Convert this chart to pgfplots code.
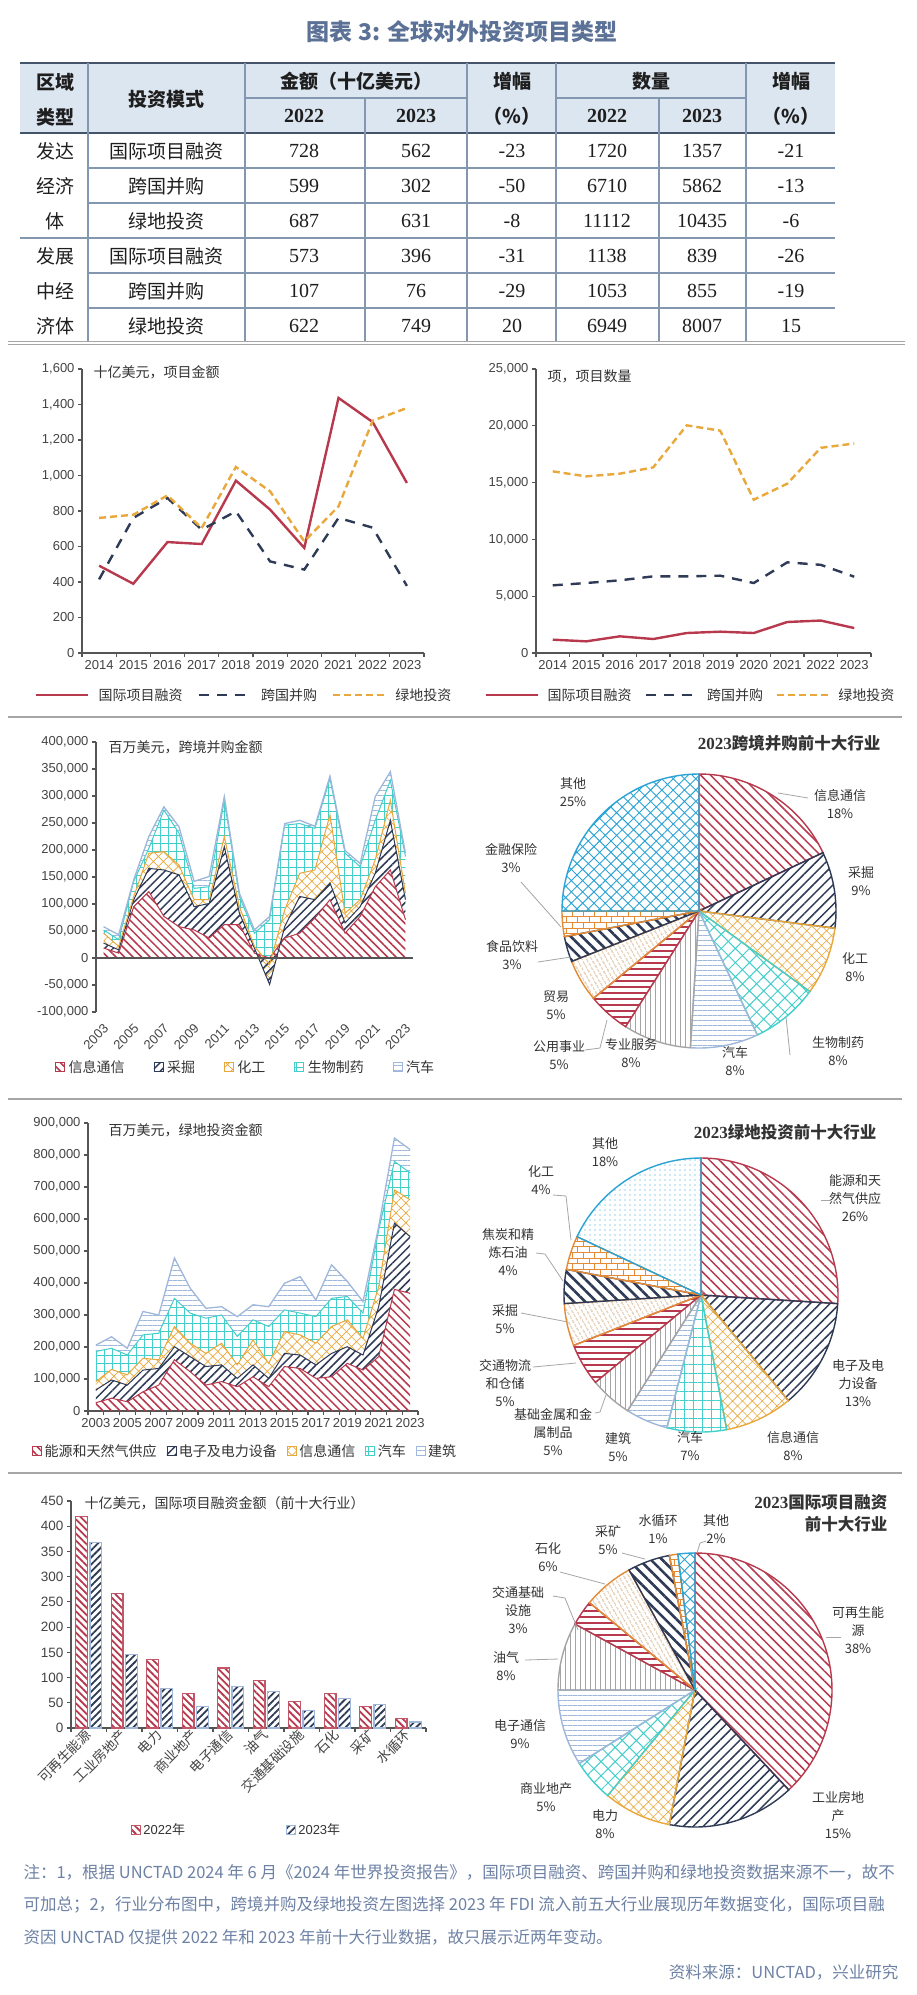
\documentclass[border=0pt]{standalone}
\usepackage{fontspec}
\setmainfont{Liberation Sans}
\newfontfamily\cjk{Noto Sans CJK SC}
\newfontfamily\tms{Liberation Serif}
\usepackage{pgfplots}
\usepackage{pgfplotstable}
\pgfplotsset{compat=1.18}
\usetikzlibrary{patterns,patterns.meta}

\definecolor{cred}{HTML}{B8394D}
\definecolor{cnavy}{HTML}{2E3A56}
\definecolor{cgold}{HTML}{E9A83B}
\definecolor{ccyan}{HTML}{45CFCB}
\definecolor{clblue}{HTML}{9FB7DA}
\definecolor{cgray}{HTML}{A5A5A5}
\definecolor{cblue}{HTML}{2BA3D4}
\definecolor{corange}{HTML}{E58B35}
\definecolor{cbrown}{HTML}{C0884F}
\definecolor{ctitle}{HTML}{5B7196}
\definecolor{cnote}{HTML}{6E82A5}
\definecolor{chead}{HTML}{DCE6F1}
\definecolor{cline}{HTML}{44546A}
\definecolor{cgrid}{HTML}{8497B0}
\definecolor{csep}{HTML}{A6A6A6}
\definecolor{caxis}{HTML}{555555}
\definecolor{ctext}{HTML}{333333}
\definecolor{ctick}{HTML}{444444}
\definecolor{ctable}{HTML}{1E1E1E}

\newcommand\fs[1]{\fontsize{#1}{#1}\selectfont}
\newcommand\fsl[2]{\fontsize{#1}{#2}\selectfont}

\tikzset{
  tcjk/.style={font=\cjk\fs{19}, text=ctable},
  thead/.style={font=\cjk\bfseries\fs{19}, text=ctable},
  tnum/.style={font=\tms\fs{20}, text=ctable},
  thnum/.style={font=\tms\bfseries\fs{20}, text=ctable},
  note/.style={font=\cjk\fs{14}, text=ctext, anchor=west},
  plab/.style={font=\cjk\fsl{13}{18}, text=ctext, align=center},
  lead/.style={draw=csep, line width=0.8pt},
  % line series
  lRed/.style={draw=cred, line width=2.4pt},
  lNavy/.style={draw=cnavy, line width=2.4pt, dash pattern=on 10pt off 8pt},
  lGold/.style={draw=cgold, line width=2.4pt, dash pattern=on 7pt off 4pt},
  % area fills
  aRed/.style={draw=none, pattern={Lines[angle=-45,distance=6pt,line width=1.5pt]}, pattern color=cred},
  aNavy/.style={draw=none, pattern={Lines[angle=45,distance=6pt,line width=1.5pt]}, pattern color=cnavy},
  aGold/.style={draw=none, pattern={Hatch[angle=45,distance=7pt,line width=0.7pt]}, pattern color=cgold},
  aGrid/.style={draw=none, pattern={Hatch[angle=0,distance=8pt,line width=0.8pt]}, pattern color=ccyan},
  aHor/.style={draw=none, pattern={Lines[angle=0,distance=5pt,line width=0.8pt]}, pattern color=clblue},
  % bars
  bRed/.style={draw=cred!85, line width=1.1pt, pattern={Lines[angle=-45,distance=5pt,line width=1.8pt]}, pattern color=cred},
  bNavy/.style={draw=clblue, line width=1.1pt, pattern={Lines[angle=45,distance=5pt,line width=1.8pt]}, pattern color=cnavy},
  % pie slices
  psRed/.style={draw=cred, line width=1.4pt, pattern={Lines[angle=-45,distance=7pt,line width=1.5pt]}, pattern color=cred},
  psNavy/.style={draw=cnavy, line width=1.4pt, pattern={Lines[angle=45,distance=7pt,line width=1.5pt]}, pattern color=cnavy},
  psGold/.style={draw=cgold, line width=1.4pt, pattern={Hatch[angle=45,distance=7pt,line width=0.6pt]}, pattern color=cgold},
  psCyanX/.style={draw=ccyan, line width=1.4pt, pattern={Hatch[angle=45,distance=10pt,line width=1pt]}, pattern color=ccyan},
  psCyanG/.style={draw=ccyan, line width=1.4pt, pattern={Hatch[angle=0,distance=9pt,line width=1pt]}, pattern color=ccyan},
  psLblue/.style={draw=clblue, line width=1.4pt, pattern={Lines[angle=0,distance=5pt,line width=0.8pt]}, pattern color=clblue},
  psGray/.style={draw=cgray, line width=1.4pt, pattern={Lines[angle=90,distance=5pt,line width=0.9pt]}, pattern color=cgray},
  psRedH/.style={draw=cred, line width=1.4pt, pattern={Lines[angle=0,distance=6pt,line width=1.3pt]}, pattern color=cred},
  psBrown/.style={draw=corange, line width=1.4pt, pattern={Lines[angle=-60,distance=4pt,line width=0.7pt]}, pattern color=cbrown},
  psNavyT/.style={draw=cnavy, line width=1.4pt, pattern={Lines[angle=-45,distance=8pt,line width=2.6pt]}, pattern color=cnavy},
  psBrick/.style={draw=corange, line width=1.4pt, pattern=bricks, pattern color=corange},
  psBlueX/.style={draw=cblue, line width=1.4pt, pattern={Hatch[angle=45,distance=8pt,line width=0.9pt]}, pattern color=cblue},
  psDots/.style={draw=cblue, line width=1.4pt, pattern={Dots[distance=5pt,radius=0.6pt]}, pattern color=cblue},
}

\pgfplotsset{
  base/.style={
    scale only axis, axis lines=left, axis line style={caxis, line width=1.3pt, -},
    tick style={caxis, line width=1.1pt}, major tick length=4pt, tick align=outside,
    tick label style={font=\fs{13}, text=ctick},
    no markers, enlargelimits=false, scaled y ticks=false,
    /pgf/number format/fixed, /pgf/number format/precision=0,
    /pgf/number format/1000 sep={,}, /pgf/number format/assume math mode=true,
    legend columns=-1,
    legend style={draw=none, fill=none, font=\cjk\fs{14}, text=ctext, inner sep=0pt, nodes={inner sep=1pt}},
  },
  linelegend/.style={legend image code/.code={\draw[##1] (0pt,0pt) -- (52pt,0pt);}},
  sqlegend/.style={legend image code/.code={\draw[##1] (0pt,-4.5pt) rectangle (9pt,4.5pt);}},
}

% pie builder: list of percent/style, clockwise from 12 o'clock
\newcommand\makepie[2]{%
  \gdef\pcum{0}\gdef#1{}%
  \foreach \pv/\ps in {#2}{%
    \pgfmathsetmacro\pa{90-3.6*\pcum}%
    \pgfmathsetmacro\pb{90-3.6*(\pcum+\pv)}%
    \pgfmathsetmacro\pn{\pcum+\pv}%
    \xdef\pcum{\pn}%
    \xdef#1{\unexpanded\expandafter{#1}\noexpand\draw[\ps] (axis cs:0,0) -- ++(\pa:137pt) arc[start angle=\pa, end angle=\pb, radius=137pt] -- cycle;}%
  }%
}

% cross-border M&A by industry, million USD, 2003-2023
\pgfplotstableread{
i r n g c a
0 18500 9200 18300 6000 6000
1 9000 6000 6500 12500 9000
2 95000 13000 6000 28000 3000
3 123000 43000 28000 9000 22000
4 77000 86000 34000 77000 6000
5 58000 96000 18000 59000 12000
6 52000 43000 13000 21000 13000
7 37000 64000 7000 24000 19000
8 62000 144000 19000 67000 7000
9 62000 21000 12000 19000 6000
10 9000 9000 3500 24500 6000
11 0 -49000 37000 83000 6000
12 37000 21000 31000 157000 3000
13 46000 68000 43000 92000 6000
14 74000 34000 55000 77000 4000
15 108000 31000 126000 67000 5000
16 46000 19000 18000 111000 5000
17 77000 18000 13000 61000 6000
18 132000 25000 25000 73000 44000
19 163000 92000 37000 37000 16000
20 71000 37000 12000 68000 6000
}\tabMA

% greenfield by industry, million USD, 2003-2023
\pgfplotstableread{
i r n g c b
0 26000 40000 26000 94000 20000
1 40000 57000 33000 66000 36000
2 29000 52000 32000 62000 21000
3 60000 68000 37000 73000 73000
4 81000 52000 27000 83000 57000
5 160000 41000 63000 88000 126000
6 123000 47000 42000 94000 78000
7 81000 58000 41000 110000 31000
8 92000 52000 68000 88000 26000
9 76000 26000 42000 89000 62000
10 107000 37000 78000 63000 47000
11 76000 26000 47000 115000 62000
12 139000 41000 68000 68000 83000
13 133000 42000 63000 68000 114000
14 102000 42000 68000 83000 52000
15 107000 73000 84000 88000 105000
16 149000 52000 84000 73000 47000
17 128000 47000 52000 79000 36000
18 170000 156000 63000 177000 11000
19 380000 207000 104000 89000 73000
20 368000 177000 115000 84000 73000
}\tabMB

\makepie\pieA{18/psRed,9/psNavy,8/psGold,8/psCyanX,8/psLblue,8/psGray,5/psRedH,5/psBrown,3/psNavyT,3/psBrick,25/psBlueX}
\makepie\pieB{26/psRed,13/psNavy,8/psGold,7/psCyanG,5/psLblue,5/psGray,5/psRedH,5/psBrown,4/psNavyT,4/psBrick,18/psDots}
\makepie\pieC{38/psRed,15/psNavy,8/psGold,5/psCyanX,9/psLblue,8/psGray,3/psRedH,6/psBrown,5/psNavyT,1/psBrick,2/psBlueX}

\begin{document}
\begin{tikzpicture}[x=1pt,y=1pt]
\path[use as bounding box] (0,0) rectangle (916,-1995);
\fill[white] (0,0) rectangle (916,-1995);

% ---------- title ----------
\node[font=\cjk\bfseries\fs{23}, text=ctitle] at (462,-32) {图表 3:\hspace{7pt}全球对外投资项目类型};

% ---------- table ----------
\fill[chead] (20,-63) rectangle (835,-133);
\draw[cline, line width=2pt] (20,-63) -- (835,-63);
\draw[cline, line width=1.6pt] (20,-133) -- (835,-133);
\draw[cgrid, line width=1.1pt] (245,-98) -- (467,-98) (556,-98) -- (746,-98);
\foreach \x in {88,245,467,556,746} \draw[cgrid, line width=1.1pt] (\x,-63) -- (\x,-133);
\foreach \x in {365,659} \draw[cgrid, line width=1.1pt] (\x,-98) -- (\x,-133);
\foreach \x in {88,245,365,467,556,659,746} \draw[cgrid, line width=1.1pt] (\x,-133) -- (\x,-342);
\foreach \y in {168,203,273,308} \draw[cgrid, line width=1.1pt] (88,-\y) -- (835,-\y);
\draw[cgrid, line width=1.1pt] (20,-238) -- (835,-238);
\draw[csep, line width=1pt] (8,-341.5) -- (905,-341.5) (8,-344.5) -- (905,-344.5);

\node[thead] at (55,-82) {区域};
\node[thead] at (55,-117) {类型};
\node[thead] at (166,-99) {投资模式};
\node[thead] at (356,-81) {金额（十亿美元）};
\node[thnum] at (304,-116) {2022};
\node[thnum] at (416,-116) {2023};
\node[thead] at (512,-81) {增幅};
\node[thead] at (512,-116) {（\%）};
\node[thead] at (651,-81) {数量};
\node[thnum] at (607,-116) {2022};
\node[thnum] at (702,-116) {2023};
\node[thead] at (791,-81) {增幅};
\node[thead] at (791,-116) {（\%）};

\foreach \ry/\rn/\va/\vb/\vc/\vd/\ve/\vf in {
  151/国际项目融资/728/562/-23/1720/1357/-21,
  186/跨国并购/599/302/-50/6710/5862/-13,
  221/绿地投资/687/631/-8/11112/10435/-6,
  256/国际项目融资/573/396/-31/1138/839/-26,
  291/跨国并购/107/76/-29/1053/855/-19,
  326/绿地投资/622/749/20/6949/8007/15}{
  \node[tcjk] at (166,-\ry) {\rn};
  \node[tnum] at (304,-\ry) {\va};
  \node[tnum] at (416,-\ry) {\vb};
  \node[tnum] at (512,-\ry) {\vc};
  \node[tnum] at (607,-\ry) {\vd};
  \node[tnum] at (702,-\ry) {\ve};
  \node[tnum] at (791,-\ry) {\vf};
}
\node[tcjk] at (55,-151) {发达};
\node[tcjk] at (55,-186) {经济};
\node[tcjk] at (55,-221) {体};
\node[tcjk] at (55,-256) {发展};
\node[tcjk] at (55,-291) {中经};
\node[tcjk] at (55,-326) {济体};

% ---------- line chart: amount ----------
\begin{axis}[base, at={(82pt,-653pt)}, anchor=south west, width=342pt, height=284pt,
  xmin=-0.5, xmax=9.5, ymin=0, ymax=1600, ytick={0,200,400,600,800,1000,1200,1400,1600},
  xtick={-0.5,0.5,...,9.5}, x tick label as interval,
  xticklabels={2014,2015,2016,2017,2018,2019,2020,2021,2022,2023},
  linelegend,
  legend style={at={(-0.1374,-0.1479)}, anchor=west,
    /tikz/every odd column/.append style={column sep=8pt},
    /tikz/every even column/.append style={column sep=14pt}}]
\addplot[lRed] coordinates {(0,492) (1,390) (2,625) (3,614) (4,971) (5,808) (6,592) (7,1437) (8,1301) (9,958)};
\addlegendentry{国际项目融资}
\addplot[lNavy] coordinates {(0,415) (1,761) (2,873) (3,695) (4,798) (5,516) (6,470) (7,761) (8,706) (9,378)};
\addlegendentry{跨国并购}
\addplot[lGold] coordinates {(0,761) (1,779) (2,888) (3,704) (4,1048) (5,911) (6,629) (7,826) (8,1309) (9,1380)};
\addlegendentry{绿地投资}
\end{axis}
\node[note] at (90,-372) {十亿美元，项目金额};

% ---------- line chart: number ----------
\begin{axis}[base, at={(536pt,-653pt)}, anchor=south west, width=335pt, height=284pt,
  xmin=-0.5, xmax=9.5, ymin=0, ymax=25000, ytick={0,5000,10000,15000,20000,25000},
  xtick={-0.5,0.5,...,9.5}, x tick label as interval,
  xticklabels={2014,2015,2016,2017,2018,2019,2020,2021,2022,2023},
  linelegend,
  legend style={at={(-0.1522,-0.1479)}, anchor=west,
    /tikz/every odd column/.append style={column sep=7pt},
    /tikz/every even column/.append style={column sep=12pt}}]
\addplot[lRed] coordinates {(0,1174) (1,1027) (2,1467) (3,1232) (4,1760) (5,1878) (6,1760) (7,2729) (8,2858) (9,2196)};
\addlegendentry{国际项目融资}
\addplot[lNavy] coordinates {(0,5956) (1,6161) (2,6396) (3,6748) (4,6748) (5,6807) (6,6161) (7,7980) (8,7763) (9,6717)};
\addlegendentry{跨国并购}
\addplot[lGold] coordinates {(0,15990) (1,15550) (2,15785) (3,16343) (4,20040) (5,19570) (6,13496) (7,14905) (8,18061) (9,18442)};
\addlegendentry{绿地投资}
\end{axis}
\node[note] at (544,-376) {项，项目数量};

\draw[csep, line width=1.2pt] (8,-717) -- (902,-717);

% ---------- stacked area: cross-border M&A ----------
\begin{axis}[base, stack plots=y, at={(96pt,-1012pt)}, anchor=south west, width=317pt, height=270pt,
  xmin=-0.5, xmax=20.5, ymin=-100000, ymax=400000,
  ytick={-100000,-50000,0,50000,100000,150000,200000,250000,300000,350000,400000},
  x axis line style={draw=none}, xtick style={draw=none},
  xtick={-0.5,0.5,...,20.5}, x tick label as interval,
  xticklabels={2003,,2005,,2007,,2009,,2011,,2013,,2015,,2017,,2019,,2021,,2023},
  xticklabel style={xshift=5pt, yshift=-8pt, rotate=45, anchor=east},
  sqlegend,
  legend style={at={(-0.1293,-0.2037)}, anchor=west,
    /tikz/every odd column/.append style={column sep=3pt},
    /tikz/every even column/.append style={column sep=28pt}}]
\addplot[aRed, legend image post style={draw=cred}] table[x=i, y=r] {\tabMA} \closedcycle;
\addlegendentry{信息通信}
\addplot[aNavy, legend image post style={draw=cnavy}] table[x=i, y=n] {\tabMA} \closedcycle;
\addlegendentry{采掘}
\addplot[aGold, legend image post style={draw=cgold}] table[x=i, y=g] {\tabMA} \closedcycle;
\addlegendentry{化工}
\addplot[aGrid, legend image post style={draw=ccyan}] table[x=i, y=c] {\tabMA} \closedcycle;
\addlegendentry{生物制药}
\addplot[aHor, legend image post style={draw=clblue}] table[x=i, y=a] {\tabMA} \closedcycle;
\addlegendentry{汽车}
\end{axis}
% outlines of the stacked layers and the zero line
\begin{axis}[scale only axis, hide axis, no markers, at={(96pt,-1012pt)}, anchor=south west, width=317pt, height=270pt,
  xmin=-0.5, xmax=20.5, ymin=-100000, ymax=400000]
\addplot[draw=cred, line width=1pt] table[x=i, y expr=\thisrow{r}] {\tabMA};
\addplot[draw=cnavy, line width=1pt] table[x=i, y expr=\thisrow{r}+\thisrow{n}] {\tabMA};
\addplot[draw=cgold, line width=1pt] table[x=i, y expr=\thisrow{r}+\thisrow{n}+\thisrow{g}] {\tabMA};
\addplot[draw=ccyan, line width=1pt] table[x=i, y expr=\thisrow{r}+\thisrow{n}+\thisrow{g}+\thisrow{c}] {\tabMA};
\addplot[draw=clblue, line width=1.3pt] table[x=i, y expr=\thisrow{r}+\thisrow{n}+\thisrow{g}+\thisrow{c}+\thisrow{a}] {\tabMA};
\addplot[draw=caxis, line width=1.3pt] coordinates {(-0.5,0) (20.5,0)};
\end{axis}
\node[note] at (105,-747) {百万美元，跨境并购金额};

% ---------- pie: cross-border M&A 2023 ----------
\begin{axis}[at={(699pt,-911pt)}, anchor=center, hide axis, scale only axis,
  width=274pt, height=274pt, xmin=-1, xmax=1, ymin=-1, ymax=1, clip=false]
\addplot[draw=none, forget plot] coordinates {(0,0)};
\pieA
\end{axis}
\node[anchor=east, text=ctext] at (884,-743) {{\tms\bfseries\fs{17}2023}{\cjk\bfseries\fs{16.5}跨境并购前十大行业}};
\draw[lead] (778,-793) -- (808,-798);
\draw[lead] (786,-1017) -- (790,-1055);
\draw[lead] (585,-1050) -- (600,-1048) -- (607,-1020);
\draw[lead] (538,-962) -- (571,-957);
\draw[lead] (521,-882) -- (561,-927);
\node[plab] at (573,-792) {其他\\25\%};
\node[plab] at (840,-804) {信息通信\\18\%};
\node[plab] at (861,-881) {采掘\\9\%};
\node[plab] at (855,-967) {化工\\8\%};
\node[plab] at (838,-1051) {生物制药\\8\%};
\node[plab] at (735,-1061) {汽车\\8\%};
\node[plab] at (631,-1053) {专业服务\\8\%};
\node[plab] at (559,-1055) {公用事业\\5\%};
\node[plab] at (556,-1005) {贸易\\5\%};
\node[plab] at (512,-955) {食品饮料\\3\%};
\node[plab] at (511,-858) {金融保险\\3\%};

\draw[csep, line width=1.2pt] (8,-1099) -- (902,-1099);

% ---------- stacked area: greenfield ----------
\begin{axis}[base, stack plots=y, at={(88pt,-1411pt)}, anchor=south west, width=330pt, height=288pt,
  xmin=-0.5, xmax=20.5, ymin=0, ymax=900000,
  ytick={0,100000,200000,300000,400000,500000,600000,700000,800000,900000},
  xtick={-0.5,0.5,...,20.5}, x tick label as interval,
  xticklabels={2003,,2005,,2007,,2009,,2011,,2013,,2015,,2017,,2019,,2021,,2023},
  sqlegend,
  legend style={at={(-0.1697,-0.1389)}, anchor=west,
    /tikz/every odd column/.append style={column sep=2pt},
    /tikz/every even column/.append style={column sep=9pt}}]
\addplot[aRed, legend image post style={draw=cred}] table[x=i, y=r] {\tabMB} \closedcycle;
\addlegendentry{能源和天然气供应}
\addplot[aNavy, legend image post style={draw=cnavy}] table[x=i, y=n] {\tabMB} \closedcycle;
\addlegendentry{电子及电力设备}
\addplot[aGold, legend image post style={draw=cgold}] table[x=i, y=g] {\tabMB} \closedcycle;
\addlegendentry{信息通信}
\addplot[aGrid, legend image post style={draw=ccyan}] table[x=i, y=c] {\tabMB} \closedcycle;
\addlegendentry{汽车}
\addplot[aHor, legend image post style={draw=clblue}] table[x=i, y=b] {\tabMB} \closedcycle;
\addlegendentry{建筑}
\end{axis}
\begin{axis}[scale only axis, hide axis, no markers, at={(88pt,-1411pt)}, anchor=south west, width=330pt, height=288pt,
  xmin=-0.5, xmax=20.5, ymin=0, ymax=900000]
\addplot[draw=cred, line width=1pt] table[x=i, y expr=\thisrow{r}] {\tabMB};
\addplot[draw=cnavy, line width=1pt] table[x=i, y expr=\thisrow{r}+\thisrow{n}] {\tabMB};
\addplot[draw=cgold, line width=1pt] table[x=i, y expr=\thisrow{r}+\thisrow{n}+\thisrow{g}] {\tabMB};
\addplot[draw=ccyan, line width=1pt] table[x=i, y expr=\thisrow{r}+\thisrow{n}+\thisrow{g}+\thisrow{c}] {\tabMB};
\addplot[draw=clblue, line width=1.3pt] table[x=i, y expr=\thisrow{r}+\thisrow{n}+\thisrow{g}+\thisrow{c}+\thisrow{b}] {\tabMB};
\end{axis}
\node[note] at (105,-1130) {百万美元，绿地投资金额};

% ---------- pie: greenfield 2023 ----------
\begin{axis}[at={(701pt,-1295pt)}, anchor=center, hide axis, scale only axis,
  width=274pt, height=274pt, xmin=-1, xmax=1, ymin=-1, ymax=1, clip=false]
\addplot[draw=none, forget plot] coordinates {(0,0)};
\pieB
\end{axis}
\node[anchor=east, text=ctext] at (880,-1132) {{\tms\bfseries\fs{17}2023}{\cjk\bfseries\fs{16.5}绿地投资前十大行业}};
\draw[lead] (821,-1200) -- (830,-1200);
\draw[lead] (553,-1195) -- (566,-1196) -- (571,-1240);
\draw[lead] (536,-1253) -- (545,-1254) -- (563,-1281);
\draw[lead] (521,-1313) -- (568,-1322);
\draw[lead] (533,-1367) -- (576,-1363);
\draw[lead] (595,-1413) -- (600,-1412) -- (606,-1395);
\node[plab] at (605,-1152) {其他\\18\%};
\node[plab] at (541,-1180) {化工\\4\%};
\node[plab] at (508,-1252) {焦炭和精\\炼石油\\4\%};
\node[plab] at (505,-1319) {采掘\\5\%};
\node[plab] at (505,-1383) {交通物流\\和仓储\\5\%};
\node[plab] at (553,-1432) {基础金属和金\\属制品\\5\%};
\node[plab] at (618,-1447) {建筑\\5\%};
\node[plab] at (690,-1446) {汽车\\7\%};
\node[plab] at (793,-1446) {信息通信\\8\%};
\node[plab] at (858,-1383) {电子及电\\力设备\\13\%};
\node[plab] at (855,-1198) {能源和天\\然气供应\\26\%};

\draw[csep, line width=1.2pt] (8,-1473) -- (902,-1473);

% ---------- bar chart: project finance by industry ----------
\begin{axis}[base, ybar, bar width=11.7pt, at={(71pt,-1728pt)}, anchor=south west, width=355pt, height=227pt,
  xmin=-0.5, xmax=9.5, ymin=0, ymax=450, ytick={0,50,100,150,200,250,300,350,400,450},
  tick label style={font=\fs{13.5}},
  xtick={-0.5,0.5,...,9.5}, x tick label as interval,
  xticklabels={可再生能源,工业房地产,电力,商业地产,电子通信,油气,交通基础设施,石化,采矿,水循环},
  xticklabel style={font=\cjk\fs{13.5}, rotate=45, anchor=east, xshift=3pt},
  legend style={at={(0.169,-0.449)}, anchor=west, font=\fs{13},
    /tikz/every odd column/.append style={column sep=1pt},
    /tikz/every even column/.append style={column sep=100pt}}]
\addplot[bRed, bar shift=-7.1pt, sqlegend] coordinates {(0,419) (1,267) (2,135) (3,68) (4,119) (5,94) (6,53) (7,69) (8,43) (9,18)};
\addlegendentry{2022{\cjk 年}}
\addplot[bNavy, bar shift=7.1pt, sqlegend] coordinates {(0,368) (1,146) (2,79) (3,43) (4,82) (5,73) (6,34) (7,59) (8,46) (9,12)};
\addlegendentry{2023{\cjk 年}}
\end{axis}
\node[note] at (81,-1503) {十亿美元，国际项目融资金额（前十大行业）};

% ---------- pie: project finance 2023 ----------
\begin{axis}[at={(695pt,-1690pt)}, anchor=center, hide axis, scale only axis,
  width=274pt, height=274pt, xmin=-1, xmax=1, ymin=-1, ymax=1, clip=false]
\addplot[draw=none, forget plot] coordinates {(0,0)};
\pieC
\end{axis}
\node[anchor=east, text=ctext] at (891,-1502) {{\tms\bfseries\fs{17}2023}{\cjk\bfseries\fs{16.5}国际项目融资}};
\node[anchor=east, text=ctext, font=\cjk\bfseries\fs{16.5}] at (891,-1524) {前十大行业};
\draw[lead] (826,-1637) -- (841,-1637);
\draw[lead] (706,-1541) -- (700,-1543) -- (697,-1553);
\draw[lead] (622,-1553) -- (645,-1559);
\draw[lead] (560,-1572) -- (605,-1584);
\draw[lead] (553,-1596) -- (565,-1598) -- (578,-1630);
\draw[lead] (525,-1660) -- (558,-1659);
\node[plab] at (658,-1529) {水循环\\1\%};
\node[plab] at (716,-1529) {其他\\2\%};
\node[plab] at (608,-1540) {采矿\\5\%};
\node[plab] at (548,-1557) {石化\\6\%};
\node[plab] at (518,-1610) {交通基础\\设施\\3\%};
\node[plab] at (506,-1666) {油气\\8\%};
\node[plab] at (520,-1734) {电子通信\\9\%};
\node[plab] at (546,-1797) {商业地产\\5\%};
\node[plab] at (605,-1824) {电力\\8\%};
\node[plab] at (838,-1815) {工业房地\\产\\15\%};
\node[plab] at (858,-1630) {可再生能\\源\\38\%};

% ---------- notes ----------
\node[anchor=west, font=\cjk\fs{16.5}, text=cnote] at (20,-1872) {注：1，根据 UNCTAD 2024 年 6 月《2024 年世界投资报告》，国际项目融资、跨国并购和绿地投资数据来源不一，故不};
\node[anchor=west, font=\cjk\fs{16.5}, text=cnote] at (20,-1905) {可加总；2，行业分布图中，跨境并购及绿地投资左图选择 2023 年 FDI 流入前五大行业展现历年数据变化，国际项目融};
\node[anchor=west, font=\cjk\fs{16.5}, text=cnote] at (20,-1937) {资因 UNCTAD 仅提供 2022 年和 2023 年前十大行业数据，故只展示近两年变动。};
\node[anchor=east, font=\cjk\fs{16.5}, text=cnote] at (902,-1972) {资料来源：UNCTAD，兴业研究};
\end{tikzpicture}
\end{document}
